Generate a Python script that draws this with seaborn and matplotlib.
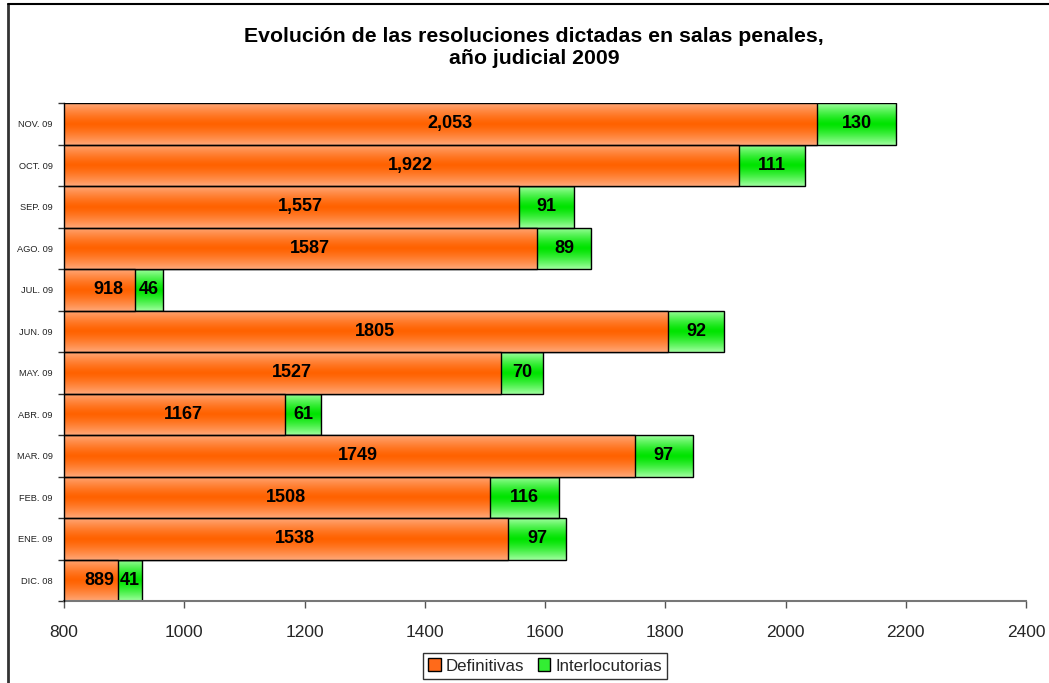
import numpy as np
import pandas as pd
import matplotlib
matplotlib.use("Agg")
import matplotlib.pyplot as plt
import seaborn as sns
from matplotlib.patches import Patch
from matplotlib.lines import Line2D
from matplotlib.colors import to_rgb

# ---- data (chronological) ----
months = ["DIC. 08", "ENE. 09", "FEB. 09", "MAR. 09", "ABR. 09", "MAY. 09",
          "JUN. 09", "JUL. 09", "AGO. 09", "SEP. 09", "OCT. 09", "NOV. 09"]
definitivas = [889, 1538, 1508, 1749, 1167, 1527, 1805, 918, 1587, 1557, 1922, 2053]
interlocutorias = [41, 97, 116, 97, 61, 70, 92, 46, 89, 91, 111, 130]
def_labels = ["889", "1538", "1508", "1749", "1167", "1527", "1805", "918",
              "1587", "1,557", "1,922", "2,053"]
int_labels = ["41", "97", "116", "97", "61", "70", "92", "46", "89", "91", "111", "130"]
xticks = [800, 1000, 1200, 1400, 1600, 1800, 2000, 2200, 2400]

title = "Evolución de las resoluciones dictadas en salas penales,\naño judicial 2009"

sns.set_theme(style="white")
plt.rcParams["font.family"] = ["Liberation Sans", "DejaVu Sans"]

df = pd.DataFrame({"mes": months, "def": definitivas, "int": interlocutorias})
df["total"] = df["def"] + df["int"]
order = months[::-1]
XMIN, XMAX = xticks[0], xticks[-1]

fig = plt.figure(figsize=(10.49, 6.83), dpi=100)
ax = fig.add_axes([64 / 1049, 1 - 601 / 683, (1026 - 64) / 1049, (601 - 103) / 683])

sns.barplot(data=df, x="total", y="mes", order=order, orient="h", width=1.0,
            color="#33ee33", edgecolor="black", linewidth=1.0, ax=ax, saturation=1)
n = len(months)
green_patches = list(ax.patches[:n])
sns.barplot(data=df, x="def", y="mes", order=order, orient="h", width=1.0,
            color="#ff6600", edgecolor="black", linewidth=1.0, ax=ax, saturation=1)
orange_patches = list(ax.patches[n:2 * n])


def gradient(patch, edge, mid, z):
    x0, y0 = patch.get_x(), patch.get_y()
    w, h = patch.get_width(), patch.get_height()
    x1 = x0 + w
    x0 = max(x0, XMIN)
    t = np.linspace(0, 1, 128)
    f = (np.abs(t - 0.5) * 2) ** 1.3
    e = np.array(to_rgb(edge))
    m = np.array(to_rgb(mid))
    cols = m[None, :] * (1 - f[:, None]) + e[None, :] * f[:, None]
    img = cols[:, None, :]
    im = ax.imshow(img, extent=[x0, x1, y0 + h, y0], aspect="auto",
                   interpolation="bilinear", zorder=z)
    im.set_clip_path(patch)
    patch.set_facecolor("none")
    patch.set_zorder(z + 0.05)


for p in green_patches:
    gradient(p, "#a0ffa0", "#00e400", 1.0)
for p in orange_patches:
    gradient(p, "#ffa878", "#ff6200", 2.0)

ax.set_xlim(XMIN, XMAX)
ax.set_ylim(n - 0.5, -0.5)

# labels
for i, m in enumerate(order):
    k = months.index(m)
    d, it = definitivas[k], interlocutorias[k]
    ax.text((XMIN + d) / 2 + 15, i, def_labels[k], ha="center", va="center",
            fontsize=13, fontweight="bold", color="black", zorder=5)
    ax.text(d + it / 2, i, int_labels[k], ha="center", va="center",
            fontsize=13, fontweight="bold", color="black", zorder=5)

ax.set_xticks(xticks)
ax.set_xticklabels([str(v) for v in xticks], fontsize=12.5)
ax.set_yticks(range(n))
ax.set_yticklabels(order, fontsize=6.7, color="#222222")
ax.set_yticks(np.arange(-0.5, n, 1.0), minor=True)
ax.tick_params(axis="y", which="both", left=True)
ax.tick_params(axis="y", which="major", length=0, pad=8)
ax.tick_params(axis="y", which="minor", length=4, width=1, color="#333333", direction="out")
ax.tick_params(axis="x", which="major", bottom=True, length=5, width=1, color="#555555",
               direction="out", pad=12)
ax.set_xlabel("")
ax.set_ylabel("")
for s in ["top", "right"]:
    ax.spines[s].set_visible(False)
ax.spines["left"].set_color("black")
ax.spines["left"].set_linewidth(1.0)
ax.spines["left"].set_zorder(6)
ax.spines["bottom"].set_color("#777777")
ax.spines["bottom"].set_linewidth(1.5)

fig.text(534 / 1049, 1 - 47 / 683, title, ha="center", va="center",
         fontsize=15.3, fontweight="bold", linespacing=1.2, color="black")

handles = [Patch(facecolor="#ff6a1a", edgecolor="black", label="Definitivas"),
           Patch(facecolor="#33ee33", edgecolor="black", label="Interlocutorias")]
leg = fig.legend(handles=handles, loc="center", bbox_to_anchor=(545 / 1049, 1 - 666 / 683),
                 ncol=2, frameon=True, fancybox=False, fontsize=12.2,
                 handlelength=0.75, handleheight=0.75, handletextpad=0.3,
                 columnspacing=0.8, borderpad=0.3, borderaxespad=0)
leg.get_frame().set_edgecolor("black")
leg.get_frame().set_linewidth(1.0)

# outer frame (left and top edges)
fig.add_artist(Line2D([7.5 / 1049, 7.5 / 1049], [0, 1 - 3.5 / 683], transform=fig.transFigure,
                      color="#333333", linewidth=2.0))
fig.add_artist(Line2D([7.5 / 1049, 1], [1 - 3.5 / 683, 1 - 3.5 / 683], transform=fig.transFigure,
                      color="black", linewidth=1.5))

fig.savefig("out.png", dpi=100)
